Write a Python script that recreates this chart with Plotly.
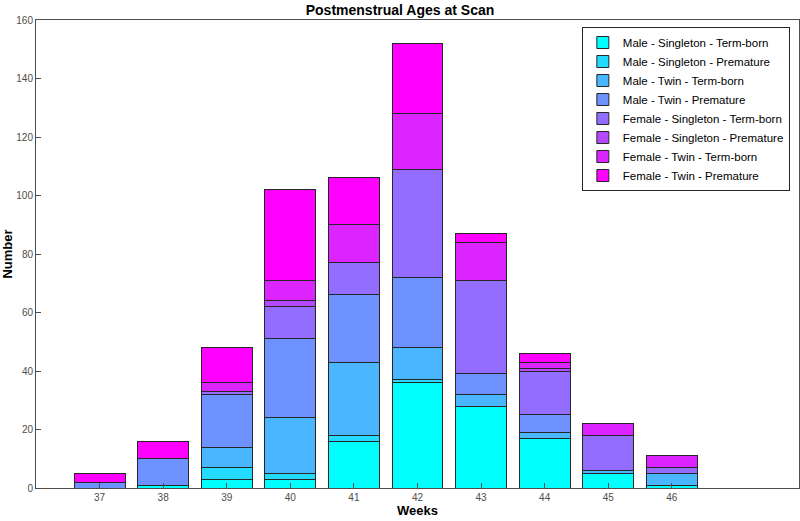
import plotly.graph_objects as go

weeks = [37, 38, 39, 40, 41, 42, 43, 44, 45, 46]

series_names = [
    "Male - Singleton - Term-born",
    "Male - Singleton - Premature",
    "Male - Twin - Term-born",
    "Male - Twin - Premature",
    "Female - Singleton - Term-born",
    "Female - Singleton - Premature",
    "Female - Twin - Term-born",
    "Female - Twin - Premature",
]

male_singleton_term = [0, 1, 3, 3, 16, 36, 28, 17, 5, 1]
male_singleton_prem = [0, 0, 4, 2, 2, 1, 0, 0, 0, 0]
male_twin_term = [0, 0, 7, 19, 25, 11, 4, 2, 1, 4]
male_twin_prem = [2, 9, 18, 27, 23, 24, 7, 6, 0, 0]
female_singleton_term = [0, 0, 1, 11, 11, 37, 32, 15, 12, 2]
female_singleton_prem = [0, 0, 0, 2, 0, 0, 0, 1, 0, 0]
female_twin_term = [0, 0, 3, 7, 13, 19, 13, 2, 4, 4]
female_twin_prem = [3, 6, 12, 31, 16, 24, 3, 3, 0, 0]

series_values = [
    male_singleton_term, male_singleton_prem, male_twin_term, male_twin_prem,
    female_singleton_term, female_singleton_prem, female_twin_term, female_twin_prem,
]

colors = ["#00FFFF", "#24DBFF", "#49B6FF", "#6D92FF",
          "#926DFF", "#B649FF", "#DB24FF", "#FF00FF"]

fig = go.Figure()
for name, vals, col in zip(series_names, series_values, colors):
    fig.add_trace(go.Bar(
        x=weeks, y=vals, name=name, width=0.8,
        marker=dict(color=col, line=dict(color="#262626", width=1)),
    ))

axis_font = dict(family="Liberation Sans, Arial, sans-serif", size=10, color="#4d4d4d")

fig.update_layout(
    barmode="stack",
    width=800, height=521,
    margin=dict(l=36, r=1, t=20, b=33, autoexpand=False),
    paper_bgcolor="white", plot_bgcolor="white",
    font=dict(family="Liberation Sans, Arial, sans-serif", color="#262626"),
    title=dict(text="<b>Postmenstrual Ages at Scan</b>", x=0.5, xanchor="center",
               y=0.981, yanchor="middle", font=dict(size=14, color="#000000")),
    legend=dict(x=0.988, y=0.985, xanchor="right", yanchor="top",
                bgcolor="white", bordercolor="#262626", borderwidth=1,
                font=dict(size=11.5, color="#000000"), traceorder="normal",
                tracegroupgap=0, itemwidth=30),
    showlegend=True,
)
fig.update_xaxes(
    range=[36, 48], tickvals=weeks, ticktext=[str(w) for w in weeks],
    ticks="inside", ticklen=5, tickcolor="#4d4d4d",
    showline=True, linecolor="#4d4d4d", linewidth=1, mirror=True,
    showgrid=False, zeroline=False, tickfont=axis_font, automargin=False,
    title=dict(text="<b>Weeks</b>", font=dict(size=13, color="#000000"), standoff=2),
)
fig.update_yaxes(
    range=[0, 160], dtick=20,
    ticks="inside", ticklen=5, tickcolor="#4d4d4d",
    showline=True, linecolor="#4d4d4d", linewidth=1, mirror=True,
    showgrid=False, zeroline=False, tickfont=axis_font, automargin=False,
    title=dict(text="<b>Number</b>", font=dict(size=13, color="#000000"), standoff=4),
)

fig.write_html("out.html", config={"displayModeBar": False},
               post_script="document.body.style.margin='0';")
